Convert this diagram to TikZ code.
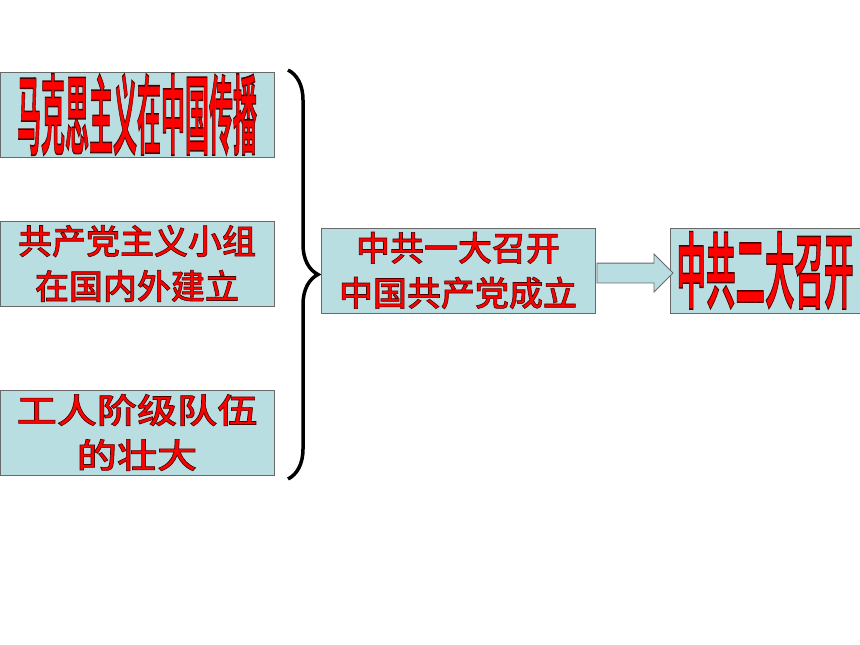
\documentclass[tikz,border=0pt]{standalone}
\usepackage{fontspec}
\usepackage{graphicx}
\newfontfamily\cjk[UprightFont=* Medium, BoldFont=* Bold]{Noto Sans CJK SC}
\usetikzlibrary{shapes.arrows,decorations.pathreplacing}
\definecolor{boxfill}{RGB}{185,222,225}
\definecolor{boxline}{RGB}{105,105,105}
% red letters with a thin dark edge
\newcommand{\outl}[1]{\special{pdf:literal direct 2 Tr 0.3 0 0 RG 0.6 w}#1\special{pdf:literal direct 0 Tr}}

\begin{document}
\begin{tikzpicture}[x=1pt,y=-1pt]
\tikzset{box/.style={draw=boxline, fill=boxfill, line width=0.8pt, minimum width=274pt, minimum height=85pt, inner sep=0pt}}
\tikzset{redtext/.style={text=red, font=\cjk\fontsize{34}{45}\selectfont, align=center}}
\useasboundingbox (0,0) rectangle (860,645);
% causes on the left
\node[box, redtext] (marx) at (137,114.5) {\resizebox*{240pt}{82pt}{\bfseries\outl{马克思主义在中国传播}}};
\node[box, redtext] (groups) at (137,263.5) {\outl{共产党主义小组}\\\outl{在国内外建立}};
\node[box, redtext] (workers) at (137,432.5) {\scalebox{1.18}[1]{\outl{工人阶级队伍}}\\\scalebox{1.18}[1]{\outl{的壮大}}};
% brace gathering them
\coordinate (btop) at (288,70);
\coordinate (bbot) at (288,479);
\draw[line width=3.5pt, decorate, decoration={brace, amplitude=30pt}] (btop) -- (bbot);
% first and second congress
\node[box, redtext] (first) at (458,270.5) {\outl{中共一大召开}\\\outl{中国共产党成立}};
\node[box, redtext, minimum width=190pt] (second) at (765,270.5) {\resizebox*{177pt}{78pt}{\bfseries\outl{中共二大召开}}};
\node[single arrow, draw=boxline, fill=boxfill, line width=0.8pt, minimum width=37pt, minimum height=76pt, single arrow head extend=9pt, inner xsep=0pt, inner ysep=9.5pt] (toward) at (630,273) {};
\end{tikzpicture}
\end{document}
